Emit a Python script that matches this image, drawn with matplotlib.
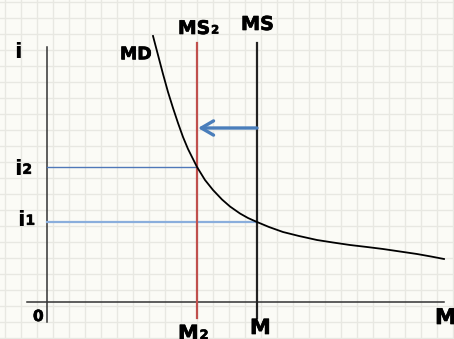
import numpy as np
import matplotlib
matplotlib.use("Agg")
import matplotlib.pyplot as plt
import matplotlib.patheffects as pe

# money market: quantity of money (x) and interest rate (i), arbitrary units
md_money = [106, 111, 116, 121, 126, 131, 136, 141, 146, 150, 158, 166, 175,
            183, 193, 201, 210, 222, 236, 252, 270, 286, 303, 320, 336, 353,
            370, 384, 397]
md_rate = [266, 247, 228, 210, 194, 179, 165, 153, 143, 135, 122, 112, 102.5,
           95.5, 88.5, 84, 80, 75, 70, 66, 62, 59.5, 57, 55, 53, 50.5,
           48, 45.5, 43]

ms_old = 210     # M
ms_new = 150     # M2
rate_old = 80    # i1
rate_new = 135   # i2
arrow_level = 174

bg = "#fbfbf6"
fig = plt.figure(figsize=(4.54, 3.39), dpi=100, facecolor=bg)
ax = fig.add_axes([0, 0, 1, 1], facecolor=bg)
ax.set_xlim(-47, 407)
ax.set_ylim(-37, 302)

# graph paper
ax.set_xticks(np.arange(-41.7, 407, 16))
ax.set_yticks(np.arange(300, -37, -16))
ax.grid(True, color="#e8e8e2", linewidth=1.0)
ax.tick_params(length=0, labelbottom=False, labelleft=False)
for s in ax.spines.values():
    s.set_visible(False)

# axes
ax.plot([0, 0], [-20, 255], color="#333333", lw=1.1)
ax.plot([-20, 397], [0, 0], color="#333333", lw=1.1)

# guide lines to the interest rates
ax.plot([0, ms_new], [rate_new, rate_new], color="#4f78b8", lw=1.0)
ax.plot([0, ms_old], [rate_old, rate_old], color="#8aaedc", lw=1.6)

# money supply lines
ax.plot([ms_new, ms_new], [-16, 259], color="#c0504d", lw=1.6)
ax.plot([ms_old, ms_old], [-16, 259], color="#222222", lw=1.6)

# money demand
ax.plot(md_money, md_rate, color="black", lw=1.3, solid_joinstyle="round")

# shift arrow
ax.annotate("", xy=(ms_new + 1, arrow_level), xytext=(ms_old, arrow_level),
            arrowprops=dict(arrowstyle="->,head_length=0.55,head_width=0.32",
                            color="#4a7ebb", lw=2.4, mutation_scale=16,
                            shrinkA=0, shrinkB=0))

txt = dict(fontweight="bold", color="black", family="DejaVu Sans")
heavy = [pe.withStroke(linewidth=0.5, foreground="black")]


def label(x, y, s, size, sub=None, va="baseline", ha="left", stroke=True):
    t = ax.text(x, y, s, fontsize=size, ha=ha, va=va,
                path_effects=heavy if stroke else None, **txt)
    if sub:
        # small digit sitting on the baseline right after the main text
        descent = 0.236 * size
        ax.annotate(sub, xy=(1, 0), xycoords=t, xytext=(0.6, descent),
                    textcoords="offset points", fontsize=size * 0.62,
                    ha="left", va="baseline", path_effects=heavy, **txt)
    return t


label(-29.5, 243.7, "i", 16, ha="center", stroke=False)
label(73, 242.7, "MD", 12.5)
label(131, 268, "MS", 13.5, sub="2")
label(194, 272, "MS", 13.8)
label(-33, 127, "i", 16, sub="2", stroke=False)
label(-30, 76, "i", 16, sub="1", stroke=False)
label(-14, -19, "0", 11)
label(131, -22, "M", 15, sub="2", va="top")
label(203, -16, "M", 15, va="top")
label(388, -6, "M", 15.5, va="top")

fig.savefig("out.png", dpi=100, facecolor=bg)
